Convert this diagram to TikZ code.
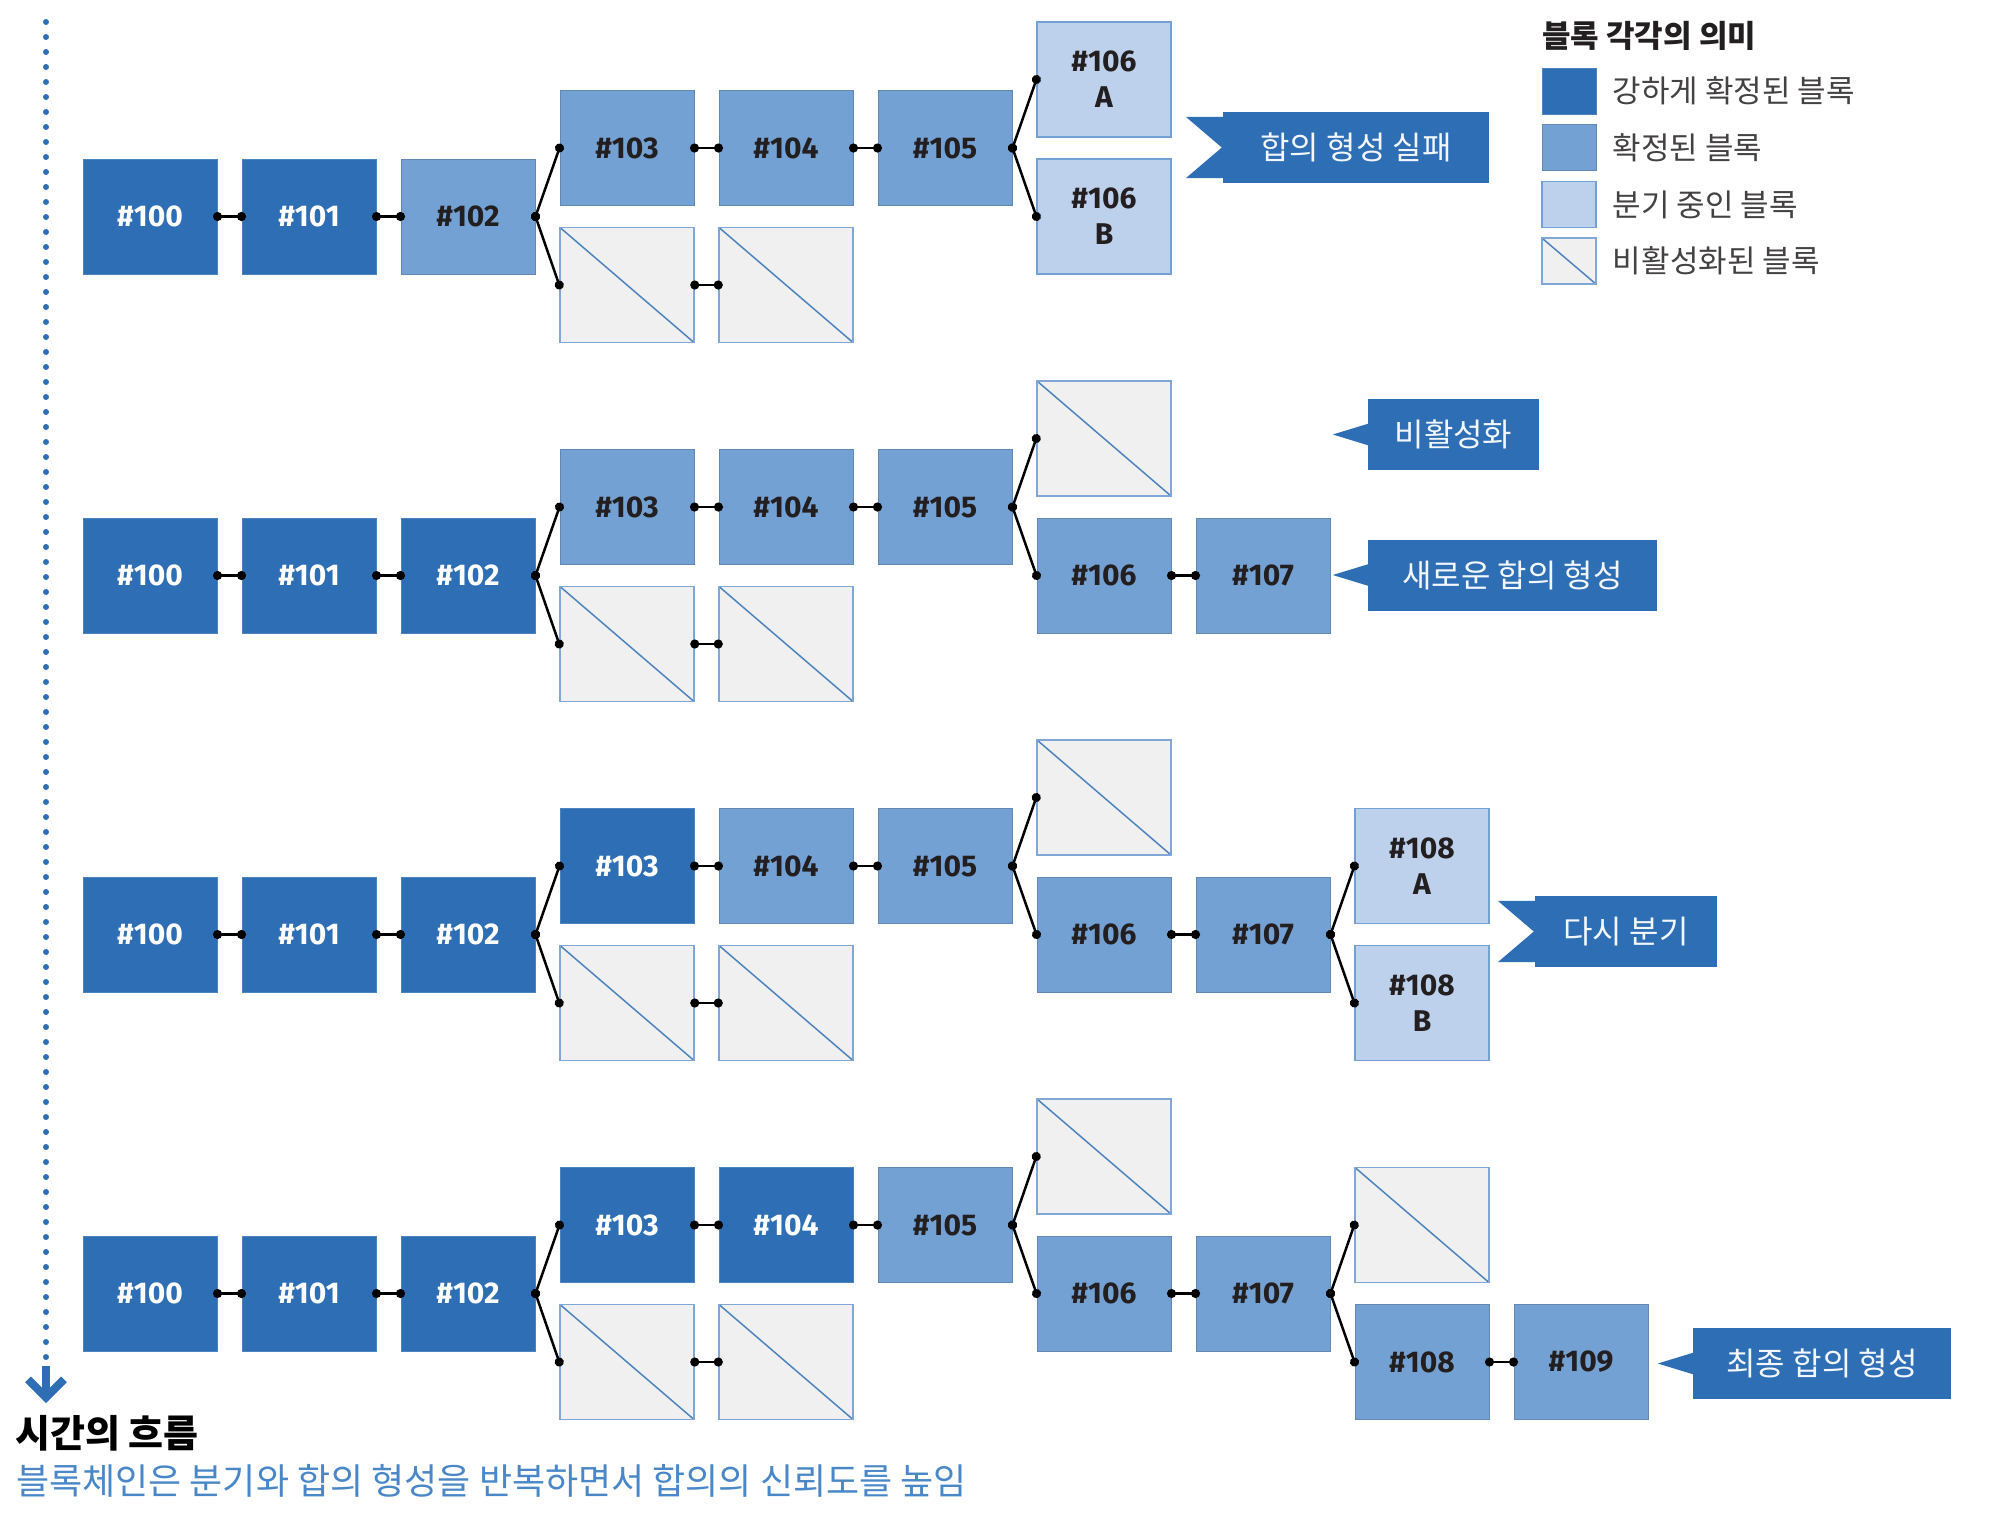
\documentclass[tikz,border=0pt]{standalone}
\usepackage{fontspec}
\usepackage{xcolor}
\usepackage{tikz}
\usetikzlibrary{arrows.meta}
\setmainfont{Fira Sans}
\newfontfamily\kr{Noto Sans CJK KR}

\definecolor{strong}{HTML}{2E6EB5}
\definecolor{fixed}{HTML}{74A1D3}
\definecolor{fork}{HTML}{BDD0EC}
\definecolor{dead}{HTML}{F0F0F0}
\definecolor{deadline}{HTML}{80A7D6}
\definecolor{ink}{HTML}{231F20}
\definecolor{note}{HTML}{4A87C8}

\begin{document}
\begin{tikzpicture}[x=1pt, y=-1pt,
	blk/.style={minimum width=134pt, minimum height=115pt, inner sep=0pt, align=center, font=\fontsize{30}{36}\selectfont\bfseries},
	strongblk/.style={blk, fill=strong, draw=strong!85!white, line width=1pt, text=white},
	fixedblk/.style={blk, fill=fixed, draw=fixed!85!black, line width=1pt, text=ink},
	forkblk/.style={blk, fill=fork, draw=fixed, line width=1.2pt, text=ink},
	deadblk/.style={blk, fill=dead, draw=deadline, line width=1.5pt, path picture={\draw[strong!85, line width=1.5pt] (path picture bounding box.north west) -- (path picture bounding box.south east);}},
	link/.style={line width=2.5pt, {Circle[length=9pt]}-{Circle[length=9pt]}, shorten <=-4.5pt, shorten >=-4.5pt},
	banner/.style={fill=strong, text=white!94!strong, minimum height=71pt, inner sep=0pt, font=\kr\fontsize{32}{32}\selectfont},
	keybox/.style={minimum width=54pt, minimum height=46pt},
	keytext/.style={anchor=west, inner sep=0pt, text=ink!85, font=\kr\fontsize{31}{31}\selectfont},
	timedots/.style={strong, line width=6pt, line cap=round, dash pattern=on 0pt off 15pt},
	timearrow/.style={strong, line width=8pt, -{Straight Barb[length=18pt, width=36pt]}}
]
\useasboundingbox (0,0) rectangle (1996,1532);

\coordinate (tstart) at (46,22);
\coordinate (tend) at (46,1360);
\coordinate (tip) at (46,1403);
\draw[timedots] (tstart) -- (tend);
\draw[timearrow] ([yshift=-6pt]tend) -- (tip);

\foreach \r/\sb/\sc/\sd in {0/fixedblk/fixedblk/fixedblk, 1/strongblk/fixedblk/fixedblk, 2/strongblk/strongblk/fixedblk, 3/strongblk/strongblk/strongblk}{
\begin{scope}[yshift=-359*\r]
	\node[strongblk] (r\r-100) at (150,216.5) {\#100};
	\node[strongblk] (r\r-101) at (309,216.5) {\#101};
	\node[\sb] (r\r-102) at (468,216.5) {\#102};
	\node[\sc] (r\r-103) at (627,148) {\#103};
	\node[\sd] (r\r-104) at (786,148) {\#104};
	\node[fixedblk] (r\r-105) at (945,148) {\#105};
	\node[deadblk] (r\r-x3) at (627,285) {};
	\node[deadblk] (r\r-x4) at (786,285) {};

	\draw[link] (r\r-100.east) -- (r\r-101.west);
	\draw[link] (r\r-101.east) -- (r\r-102.west);
	\draw[link] (r\r-102.east) -- (r\r-103.west);
	\draw[link] (r\r-102.east) -- (r\r-x3.west);
	\draw[link] (r\r-103.east) -- (r\r-104.west);
	\draw[link] (r\r-104.east) -- (r\r-105.west);
	\draw[link] (r\r-x3.east) -- (r\r-x4.west);
\end{scope}
}

\node[forkblk] (r0-106a) at (1104,79.5) {\#106\\A};
\node[forkblk] (r0-106b) at (1104,216.5) {\#106\\B};
\draw[link] (r0-105.east) -- (r0-106a.west);
\draw[link] (r0-105.east) -- (r0-106b.west);

\foreach \r in {1,2,3}{
\begin{scope}[yshift=-359*\r]
	\node[deadblk] (r\r-x6) at (1104,79.5) {};
	\node[fixedblk] (r\r-106) at (1104,216.5) {\#106};
	\node[fixedblk] (r\r-107) at (1263,216.5) {\#107};
	\draw[link] (r\r-105.east) -- (r\r-x6.west);
	\draw[link] (r\r-105.east) -- (r\r-106.west);
	\draw[link] (r\r-106.east) -- (r\r-107.west);
\end{scope}
}

\node[forkblk] (r2-108a) at (1422,866) {\#108\\A};
\node[forkblk] (r2-108b) at (1422,1003) {\#108\\B};
\draw[link] (r2-107.east) -- (r2-108a.west);
\draw[link] (r2-107.east) -- (r2-108b.west);

\node[deadblk] (r3-x8) at (1422,1225) {};
\node[fixedblk] (r3-108) at (1422,1362) {\#108};
\node[fixedblk] (r3-109) at (1581,1362) {\#109};
\draw[link] (r3-107.east) -- (r3-x8.west);
\draw[link] (r3-107.east) -- (r3-108.west);
\draw[link] (r3-108.east) -- (r3-109.west);

\node[banner, minimum width=266pt] (fail) at (1356,147.5) {합의 형성 실패};
\node[banner, minimum width=171pt] (off) at (1453.5,434.5) {비활성화};
\node[banner, minimum width=289pt] (newcons) at (1512.5,575) {새로운 합의 형성};
\node[banner, minimum width=182pt] (refork) at (1626,931.5) {다시 분기};
\node[banner, minimum width=258pt] (final) at (1822,1363.5) {최종 합의 형성};

\foreach \n in {fail,refork}{
	\fill[strong] ([xshift=-37pt,yshift=-5pt]\n.north west) -- ([xshift=1pt,yshift=-5pt]\n.north west) -- ([xshift=1pt,yshift=5pt]\n.south west) -- ([xshift=-37pt,yshift=5pt]\n.south west) -- ([xshift=-1pt]\n.west) -- cycle;
}
\foreach \n in {off,newcons,final}{
	\fill[strong] ([xshift=1pt,yshift=11pt]\n.west) -- ([xshift=-35pt]\n.west) -- ([xshift=1pt,yshift=-11pt]\n.west) -- cycle;
}

\node[anchor=west, inner sep=0pt, text=ink, font=\kr\bfseries\fontsize{31}{31}\selectfont] (keytitle) at (1542,36) {블록 각각의 의미};
\foreach \i/\s/\t in {0/strongblk/강하게 확정된 블록, 1/fixedblk/확정된 블록, 2/forkblk/분기 중인 블록, 3/deadblk/비활성화된 블록}{
	\node[\s, keybox] (key\i) at (1569,91+56.7*\i) {};
	\node[keytext] (keylabel\i) at ([xshift=16pt]key\i.east) {\t};
}

\node[anchor=west, inner sep=0pt, text=black, font=\kr\bfseries\fontsize{38}{38}\selectfont] (flowtitle) at (15,1433) {시간의 흐름};
\node[anchor=west, inner sep=0pt, text=note, font=\kr\fontsize{36}{36}\selectfont] (summary) at (16,1481) {블록체인은 분기와 합의 형성을 반복하면서 합의의 신뢰도를 높임};

\end{tikzpicture}
\end{document}
